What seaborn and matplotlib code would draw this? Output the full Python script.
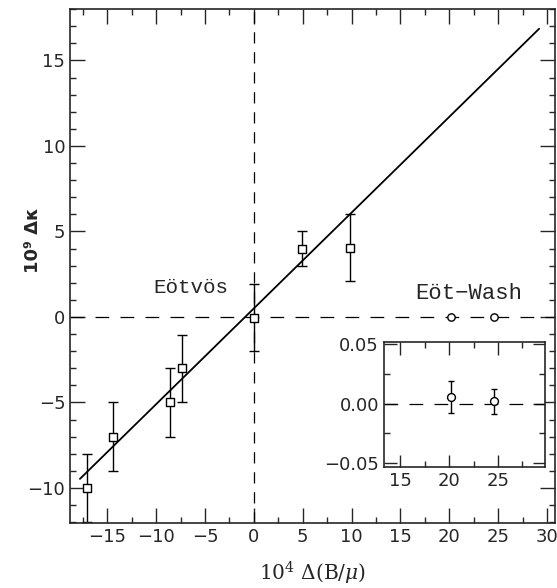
import numpy as np
import seaborn as sns
import matplotlib.pyplot as plt
from matplotlib.ticker import MultipleLocator, FuncFormatter

# Eotvos-type data points
eot_x = [-17.1, -14.4, -8.6, -7.4, 0.0, 4.9, 9.8]
eot_y = [-10.0, -7.0, -5.0, -3.0, -0.05, 4.0, 4.05]
eot_err = [2.0, 2.0, 2.0, 1.95, 1.95, 1.0, 1.95]

# Eot-Wash data points (inset)
ew_x = [20.2, 24.6]
ew_y = [0.0055, 0.0018]
ew_err = [0.0135, 0.0105]

# straight-line fit
fit_slope = 0.56
fit_icept = 0.5
fit_range = [-17.8, 29.2]

sns.set_style('ticks')
plt.rcParams['font.family'] = ['DejaVu Sans']
plt.rcParams['mathtext.fontset'] = 'dejavuserif'

fig = plt.figure(figsize=(5.57, 5.88), dpi=100)
ax = fig.add_axes([0.126, 0.1105, 0.87, 0.874])

ax.axhline(0, color='k', lw=0.9, ls=(0, (11, 9)))
ax.axvline(0, color='k', lw=0.9, ls=(0, (9, 7)))

fx = np.array(fit_range)
sns.lineplot(x=fx, y=fit_icept + fit_slope * fx, ax=ax, color='k', lw=1.3)

ax.errorbar(eot_x, eot_y, yerr=eot_err, fmt='none', ecolor='k', elinewidth=1, capsize=3.5, capthick=1)
sns.scatterplot(x=eot_x, y=eot_y, ax=ax, marker='s', s=28, facecolor='white', edgecolor='k', linewidth=1, zorder=5)
sns.scatterplot(x=ew_x, y=[0, 0], ax=ax, marker='o', s=28, facecolor='white', edgecolor='k', linewidth=1, zorder=5)

ax.set_xlim(-18.8, 30.8)
ax.set_ylim(-12.05, 18)
ax.xaxis.set_major_locator(MultipleLocator(5))
ax.xaxis.set_minor_locator(MultipleLocator(2.5))
ax.yaxis.set_major_locator(MultipleLocator(5))
ax.yaxis.set_minor_locator(MultipleLocator(1))
ax.tick_params(which='both', direction='in', top=True, right=True, labelsize=13, width=1)
ax.tick_params(which='major', length=11)
ax.tick_params(which='minor', length=4)
for s in ax.spines.values():
    s.set_linewidth(1.2)

ax.set_xlabel(r'$10^4\ \Delta(\mathrm{B}/\mu)$', fontsize=14.5, labelpad=10)
ax.set_ylabel('10⁹ Δκ', fontsize=13, fontweight='bold')
ax.yaxis.set_label_coords(-0.058, 0.55)

ax.text(-2.6, 1.75, 'Eötvös', fontsize=15, ha='right', va='center', family='Liberation Mono')
ax.text(27.5, 1.4, 'Eöt−Wash', fontsize=16, ha='right', va='center', family='Liberation Mono')

# inset
ins = fig.add_axes([0.689, 0.2063, 0.289, 0.2126])
ins.axhline(0, color='k', lw=0.9, ls=(0, (11, 9)))
ins.errorbar(ew_x, ew_y, yerr=ew_err, fmt='none', ecolor='k', elinewidth=1, capsize=2.5, capthick=1)
sns.scatterplot(x=ew_x, y=ew_y, ax=ins, marker='o', s=32, facecolor='white', edgecolor='k', linewidth=1, zorder=5)
ins.set_xlim(13.3, 29.8)
ins.set_ylim(-0.053, 0.052)
ins.xaxis.set_major_locator(MultipleLocator(5))
ins.xaxis.set_minor_locator(MultipleLocator(2.5))
ins.yaxis.set_major_locator(MultipleLocator(0.05))
ins.yaxis.set_minor_locator(MultipleLocator(0.025))
ins.yaxis.set_major_formatter(FuncFormatter(lambda v, p: f'{v:.2f}'.replace('-', '\u2212')))
ins.tick_params(which='both', direction='in', top=True, right=True, labelsize=13, width=1)
ins.tick_params(which='major', length=9)
ins.tick_params(which='minor', length=4)
for s in ins.spines.values():
    s.set_linewidth(1.2)

fig.savefig('out.png', dpi=100)
